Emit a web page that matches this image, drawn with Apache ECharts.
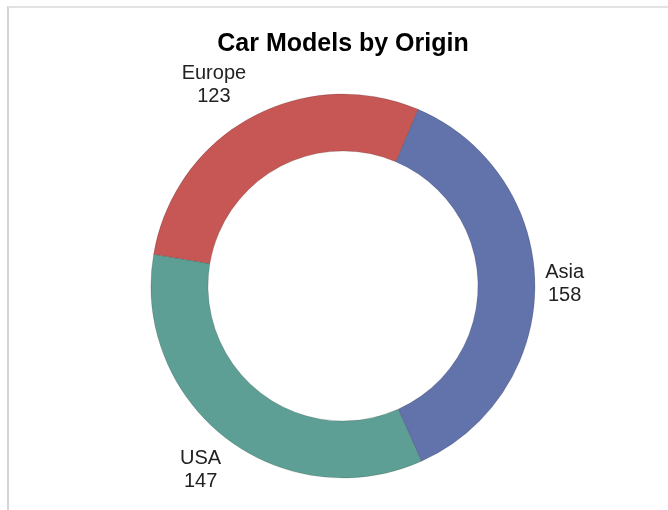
<!DOCTYPE html>
<html>
<head>
<meta charset="utf-8">
<script src="https://cdn.jsdelivr.net/npm/echarts@6/dist/echarts.min.js"></script>
<style>
  html, body { margin: 0; padding: 0; background: #fff; overflow: hidden; }
  #frame { position: absolute; left: 7px; top: 6px; width: 700px; height: 600px;
           border-left: 2px solid #d4d4d4; border-top: 2px solid #e2e2e2; }
  /* 图放在框里，标题以图为中心 */
  #main { position: absolute; left: 18px; top: 0; width: 650px; height: 510px; }
</style>
</head>
<body>
<div id="frame"></div>
<div id="main"></div>
<script>
// 数据
var origins = ['Asia', 'USA', 'Europe'];
var counts = [158, 147, 123];
var colors = ['#6272ab', '#5e9f95', '#c65755'];

var chart = echarts.init(document.getElementById('main'));

var pieData = [];
for (var i = 0; i < origins.length; i++) {
	pieData.push({ name: origins[i], value: counts[i], itemStyle: { color: colors[i] } });
}

var outerR = 192;
var labelGap = 10;   // 标签框离外圆的距离
var labelMinTop = 62; // 标签不能压到标题

var option = {
	animation: false,
	title: {
		text: 'Car Models by Origin',
		left: 'center',
		top: 27,
		textStyle: { fontFamily: 'Liberation Sans', fontSize: 25, fontWeight: 'bold', color: '#000' }
	},
	series: [{
		type: 'pie',
		center: [325, 286],
		radius: [135, outerR],
		startAngle: 67,
		clockwise: true,
		avoidLabelOverlap: false,
		itemStyle: { borderColor: 'rgba(0,0,0,0.15)', borderWidth: 1 },
		label: {
			show: true,
			position: 'outside',
			formatter: '{b}\n{c}',
			fontFamily: 'Liberation Sans',
			fontSize: 20,
			lineHeight: 23,
			color: '#222'
		},
		// 线不显示，只用它的点来定位文字
		labelLine: { show: true, length: 20, length2: 0, lineStyle: { opacity: 0 } },
		labelLayout: function (params) {
			var p = params.labelLinePoints;
			if (!p) return {};
			var ux = p[1][0] - p[0][0], uy = p[1][1] - p[0][1];
			var len = Math.sqrt(ux * ux + uy * uy);
			ux /= len; uy /= len;
			var cx = p[0][0] - ux * outerR, cy = p[0][1] - uy * outerR;
			var w = params.labelRect.width, h = params.labelRect.height;
			var ang = Math.atan2(uy, ux);
			var step = (ux < 0 ? -1 : 1) * Math.PI / 360;
			var x, y;
			for (var k = 0; k < 180; k++) {
				var dx = Math.cos(ang), dy = Math.sin(ang);
				var off = outerR + labelGap + Math.abs(dx) * w / 2 + Math.abs(dy) * h / 2;
				x = cx + dx * off;
				y = cy + dy * off;
				if (y - h / 2 >= labelMinTop) break;
				ang += step;
			}
			return { x: x, y: y, align: 'center', verticalAlign: 'middle' };
		},
		emphasis: { disabled: true },
		data: pieData
	}]
};

chart.setOption(option);
</script>
</body>
</html>
